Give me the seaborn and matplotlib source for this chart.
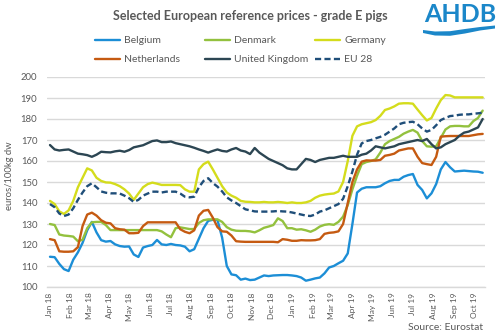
import numpy as np
import pandas as pd
import matplotlib
matplotlib.use('Agg')
import matplotlib.pyplot as plt
import matplotlib.dates as mdates
from matplotlib.patches import Polygon
from matplotlib.ticker import MultipleLocator
import seaborn as sns

# ---------------- data (weekly, from 1 Jan 2018) ----------------
start_date = '2018-01-01'
n_weeks = 94
series_names = ['Belgium', 'Denmark', 'Germany', 'Netherlands', 'United Kingdom', 'EU 28']

belgium = [114.4, 114.2, 111.0, 108.5, 107.6, 113.0, 116.5, 121.0, 127.0, 131.0,
           126.0, 122.3, 121.6, 121.9, 120.3, 119.5, 119.2, 119.3, 115.5, 114.3,
           118.8, 119.5, 120.0, 122.4, 120.3, 120.0, 120.5, 120.0, 119.8, 119.2,
           117.0, 118.0, 123.0, 128.0, 131.5, 132.0, 131.9, 123.5, 110.0, 106.0,
           105.6, 103.5, 104.0, 103.3, 103.5, 104.5, 105.5, 105.2, 105.5, 105.6,
           105.7, 105.7, 105.5, 105.2, 104.5, 103.0, 103.5, 104.1, 104.5, 106.5,
           109.3, 110.0, 111.3, 112.5, 116.0, 130.0, 145.0, 146.8, 147.5, 147.5,
           147.5, 148.0, 149.4, 150.5, 151.0, 151.0, 152.5, 153.3, 153.8, 148.6,
           146.2, 142.2, 144.6, 149.0, 156.0, 159.5, 157.0, 155.0, 155.2, 155.4,
           155.2, 155.0, 154.9, 154.4]

denmark = [130.0, 129.5, 125.0, 124.5, 124.3, 124.0, 121.8, 122.5, 128.0, 130.8,
           131.0, 131.0, 129.5, 127.1, 127.1, 127.1, 127.1, 127.1, 127.1, 127.1,
           127.1, 127.1, 127.1, 127.1, 126.5, 125.0, 123.7, 128.0, 128.4, 128.0,
           127.6, 127.6, 130.5, 131.8, 132.2, 132.2, 132.2, 131.0, 128.5, 127.3,
           126.8, 126.7, 126.7, 126.5, 126.0, 127.0, 128.2, 128.8, 129.5, 132.7,
           131.4, 128.0, 128.0, 127.3, 127.5, 127.0, 126.3, 127.3, 128.8, 129.6,
           129.9, 129.6, 131.0, 133.5, 139.0, 146.5, 153.0, 158.5, 159.5, 160.0,
           160.8, 164.0, 168.0, 169.5, 170.5, 171.5, 173.0, 174.0, 174.8, 173.5,
           169.5, 167.0, 166.8, 167.0, 171.0, 175.0, 176.5, 176.7, 176.7, 176.5,
           176.5, 179.0, 180.5, 184.0]

germany = [141.0, 139.5, 136.0, 134.8, 136.5, 141.0, 147.5, 152.0, 156.5, 155.5,
           152.0, 150.5, 149.8, 149.7, 149.0, 148.0, 146.5, 144.5, 141.5, 144.5,
           147.5, 149.0, 149.7, 149.2, 148.6, 148.6, 148.6, 148.6, 148.5, 146.5,
           145.4, 145.4, 156.0, 158.5, 159.7, 156.0, 152.0, 148.0, 145.0, 143.5,
           142.5, 141.0, 140.6, 140.5, 140.3, 140.3, 140.5, 140.3, 140.3, 140.5,
           140.3, 140.0, 140.3, 140.0, 140.0, 140.3, 141.0, 142.5, 143.5, 144.0,
           144.3, 144.5, 145.5, 150.0, 160.0, 172.0, 176.5, 177.5, 178.0, 178.5,
           179.5, 181.5, 184.3, 185.0, 186.0, 187.3, 187.5, 187.5, 187.3, 184.5,
           181.8, 179.3, 180.5, 185.0, 189.0, 191.4, 191.2, 190.3, 190.3, 190.3,
           190.3, 190.3, 190.3, 190.3]

netherlands = [122.8, 122.3, 117.0, 116.8, 116.8, 117.0, 119.0, 129.0, 134.5, 135.4,
               134.0, 131.8, 130.6, 130.3, 128.0, 127.5, 127.3, 125.6, 125.6, 125.8,
               129.0, 130.8, 130.8, 130.8, 130.8, 130.8, 130.8, 130.8, 127.5, 126.3,
               125.6, 127.0, 134.0, 136.3, 136.7, 133.0, 128.5, 126.5, 126.3, 124.5,
               121.8, 121.6, 121.5, 121.5, 121.5, 121.5, 121.5, 121.5, 121.5, 121.3,
               122.8, 122.5, 122.0, 122.0, 122.3, 122.2, 122.2, 122.3, 122.8, 125.3,
               125.8, 126.0, 126.5, 130.0, 140.0, 150.0, 156.0, 159.7, 160.3, 160.2,
               160.2, 160.5, 162.5, 162.9, 163.5, 165.0, 165.5, 166.0, 166.0, 162.0,
               159.0, 158.5, 158.1, 162.0, 171.6, 171.8, 171.9, 171.9, 171.9, 171.9,
               171.9, 172.3, 172.7, 172.9]

united_kingdom = [167.6, 165.5, 165.0, 165.3, 165.5, 164.5, 163.5, 163.2, 162.8, 162.0,
                  163.0, 164.4, 164.2, 164.1, 164.6, 164.9, 164.4, 165.2, 166.5, 167.0,
                  167.5, 168.5, 169.5, 169.8, 169.0, 169.0, 169.3, 168.5, 168.0, 167.5,
                  167.0, 166.3, 165.5, 164.8, 164.0, 164.8, 165.5, 164.8, 164.5, 165.5,
                  166.2, 165.0, 164.5, 163.3, 166.2, 164.0, 162.5, 161.0, 160.0, 159.0,
                  158.0, 156.5, 156.0, 156.0, 158.5, 161.0, 160.5, 159.5, 160.5, 161.0,
                  161.5, 161.5, 162.0, 162.5, 162.0, 162.0, 162.0, 163.0, 163.5, 165.0,
                  167.0, 166.5, 166.0, 166.5, 167.0, 168.0, 168.5, 169.0, 169.5, 170.0,
                  169.5, 170.5, 168.0, 166.0, 166.5, 168.0, 169.0, 170.0, 172.0, 173.5,
                  174.0, 175.0, 176.0, 180.0]

eu28 = [139.5, 138.0, 135.0, 133.8, 134.5, 137.5, 141.5, 145.0, 148.0, 149.4,
        147.5, 145.5, 144.9, 144.6, 144.6, 144.5, 143.5, 142.3, 140.5, 141.5,
        143.5, 144.5, 145.4, 145.4, 145.0, 145.4, 145.4, 145.4, 144.5, 143.0,
        142.7, 143.0, 147.5, 150.5, 151.8, 149.5, 147.8, 145.5, 142.7, 141.2,
        140.0, 138.5, 137.0, 136.5, 136.0, 135.9, 135.9, 135.9, 136.0, 136.2,
        136.0, 135.9, 135.5, 135.0, 134.5, 134.0, 133.8, 134.5, 135.9, 136.5,
        137.5, 138.5, 139.5, 142.0, 148.0, 155.0, 163.0, 168.4, 169.5, 170.0,
        170.8, 171.5, 172.5, 174.0, 175.5, 177.5, 178.2, 178.5, 178.7, 177.5,
        175.5, 174.0, 174.8, 177.0, 179.5, 180.5, 181.4, 181.6, 182.0, 182.2,
        182.2, 182.5, 182.7, 183.0]

title_text = 'Selected European reference prices - grade E pigs'
y_label = 'euros/100kg dw'
source_text = 'Source: Eurostat'

# ---------------- build long table ----------------
dates = pd.date_range(start_date, periods=n_weeks, freq='7D')
wide = pd.DataFrame({
    'date': dates,
    'Belgium': belgium,
    'Denmark': denmark,
    'Germany': germany,
    'Netherlands': netherlands,
    'United Kingdom': united_kingdom,
    'EU 28': eu28,
})
df = wide.melt(id_vars='date', var_name='country', value_name='price')

# ---------------- style ----------------
sns.set_style('white')
plt.rcParams['font.family'] = ['Lato', 'DejaVu Sans']
TXT = '#595959'
GRID = '#D9D9D9'

palette = {'Belgium': '#1C8ED6', 'Denmark': '#93C13E', 'Germany': '#D4DC1C',
           'Netherlands': '#C55A11', 'United Kingdom': '#2C4653', 'EU 28': '#1F4E79'}
dashes = {n: '' for n in series_names}
dashes['EU 28'] = (2.6, 1.4)

W, H = 500, 334
fig = plt.figure(figsize=(W / 100, H / 100), dpi=100)
ax = fig.add_axes([47 / W, 1 - 287 / H, 438 / W, 210 / H])

sns.lineplot(data=df, x='date', y='price', hue='country', style='country',
             hue_order=series_names, style_order=series_names,
             palette=palette, dashes=dashes, linewidth=1.7, errorbar=None, ax=ax)

handles, labels = ax.get_legend_handles_labels()
ax.get_legend().remove()
hmap = dict(zip(labels, handles))

# axes formatting
t0 = pd.Timestamp(start_date)
ax.set_xlim(t0 - pd.Timedelta(days=4.5), t0 + pd.Timedelta(days=654.5))
ax.set_ylim(100, 200)
ax.yaxis.set_major_locator(MultipleLocator(10))
ax.xaxis.set_major_locator(mdates.MonthLocator())
ax.xaxis.set_major_formatter(mdates.DateFormatter('%b %y'))
ax.set_xlabel('')
ax.set_ylabel('')
ax.yaxis.grid(True, color=GRID, linewidth=1.0)
ax.xaxis.grid(False)
ax.set_axisbelow(True)
for s in ['left', 'top', 'right']:
    ax.spines[s].set_visible(False)
ax.spines['bottom'].set_color(GRID)
ax.spines['bottom'].set_linewidth(1.0)
ax.tick_params(axis='y', length=0, labelsize=6.8, labelcolor=TXT, pad=7)
ax.tick_params(axis='x', length=2.5, width=0.8, color=GRID, direction='out',
               labelsize=6, labelcolor=TXT, pad=1.5, labelrotation=90)

# legends (three columns)
col_x = [95, 205, 315]
cols = [['Belgium', 'Netherlands'], ['Denmark', 'United Kingdom'], ['Germany', 'EU 28']]
for cx, names in zip(col_x, cols):
    fig.legend([hmap[n] for n in names], names, loc='upper left',
               bbox_to_anchor=(cx / W, 1 - 36 / H), frameon=False,
               fontsize=7.5, labelcolor=TXT, handlelength=2.4, handletextpad=0.4,
               borderpad=0, borderaxespad=0, labelspacing=0.95)

# texts
fig.text(0.5, 1 - 16 / H, title_text, ha='center', va='center',
         fontsize=9, fontweight='bold', color=TXT)
fig.text(10 / W, 1 - 176 / H, y_label, rotation=90, ha='center', va='center',
         fontsize=6.8, color=TXT)
fig.text(483 / W, 1 - 327 / H, source_text, ha='right', va='center',
         fontsize=7.5, color=TXT)

# AHDB logo
fig.text(460 / W, 1 - 15 / H, 'AHDB', ha='center', va='center',
         fontsize=18, fontweight='bold', color='#1B87C9')
top = [(423, 30), (435, 31.5), (450, 31.2), (465, 29), (480, 27), (495, 25.5)]
bot = [(495, 28.5), (480, 30.5), (465, 33.5), (450, 35.8), (435, 35.5), (423, 33)]
verts = [(x / W, 1 - y / H) for x, y in top + bot]
fig.add_artist(Polygon(verts, closed=True, transform=fig.transFigure,
                       facecolor='#1B87C9', edgecolor='none'))

fig.savefig('out.png', dpi=100)
